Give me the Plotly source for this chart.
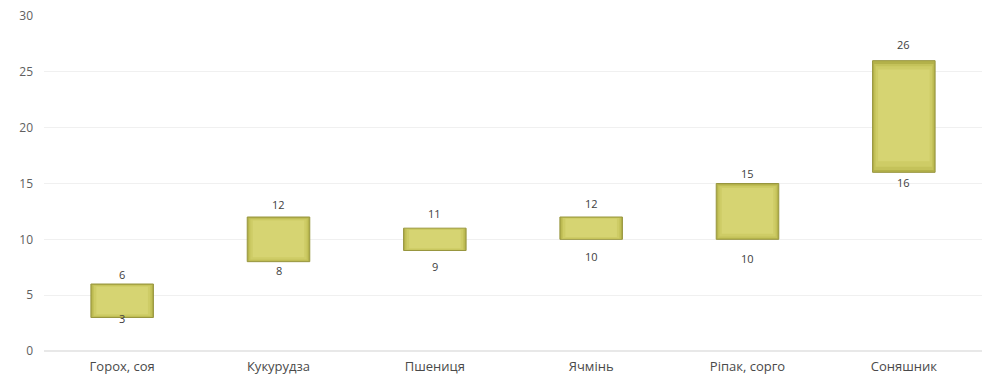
import plotly.graph_objects as go

categories = ["Горох, соя", "Кукурудза", "Пшениця", "Ячмінь", "Ріпак, сорго", "Соняшник"]
low = [3, 8, 9, 10, 10, 16]
high = [6, 12, 11, 12, 15, 26]
y_ticks = [0, 5, 10, 15, 20, 25, 30]

# label pixel offsets (styling, as placed in the original)
top_gap = [10, 13, 15, 14, 10, 16]
bottom_gap = [1, 9, 16, 17, 19, 10]

heights = [h - l for h, l in zip(high, low)]

fig = go.Figure()
# layered bars to suggest a soft gradient
layers = [
    (0.40, "#b3b14a", 0.00, 0.00),
    (0.38, "#c4c25a", 0.02, 0.03),
    (0.36, "#cecc66", 0.05, 0.05),
    (0.33, "#d6d472", 0.10, 0.08),
]
for i, (w, col, bfrac, tfrac) in enumerate(layers):
    fig.add_trace(go.Bar(
        x=categories,
        y=[h * (1 - bfrac - tfrac) for h in heights],
        base=[l + h * bfrac for l, h in zip(low, heights)],
        width=w,
        marker=dict(color=col, line=dict(color="#98963f" if i == 0 else col, width=1 if i == 0 else 0)),
        hoverinfo="skip", showlegend=False,
    ))

for i, c in enumerate(categories):
    fig.add_annotation(x=c, y=high[i], text=str(high[i]), showarrow=False,
                       yshift=top_gap[i], yanchor="middle",
                       font=dict(family="Open Sans", size=11, color="#404040"))
    fig.add_annotation(x=c, y=low[i], text=str(low[i]), showarrow=False,
                       yshift=-bottom_gap[i], yanchor="middle",
                       font=dict(family="Open Sans", size=11, color="#404040"))

fig.update_layout(
    width=982, height=384,
    margin=dict(l=44, r=0, t=16, b=33),
    paper_bgcolor="white", plot_bgcolor="white",
    barmode="overlay",
    font=dict(family="Open Sans", color="#595959"),
    xaxis=dict(showgrid=False, showline=False, ticks="", tickfont=dict(size=13, color="#4a4a4a"),
               range=[-0.5, 5.5], ticklabelstandoff=6),
    yaxis=dict(range=[0, 30], tickvals=y_ticks, showgrid=True, gridcolor="#f0f0f0", gridwidth=1,
               zeroline=True, zerolinecolor="#e8e8e8", showline=False, ticks="",
               tickfont=dict(size=12, color="#606060"), ticklabelstandoff=10),
)

fig.write_html("out.html")
